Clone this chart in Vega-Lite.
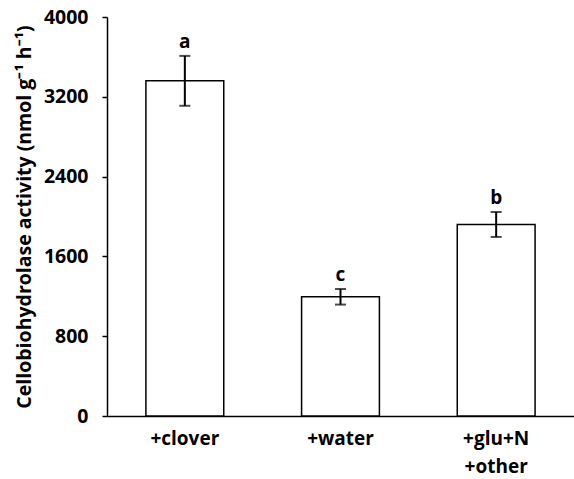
{
  "$schema": "https://vega.github.io/schema/vega-lite/v6.json",
  "autosize": "none",
  "width": 467,
  "height": 399,
  "padding": {"left": 107, "top": 17, "right": 0, "bottom": 63},
  "background": "white",
  "config": {
    "view": {"stroke": null},
    "font": "Open Sans"
  },
  "data": {
    "values": [
      {"treatment": "+clover", "activity": 3360, "se": 250, "group": "a"},
      {"treatment": "+water", "activity": 1195, "se": 78, "group": "c"},
      {"treatment": "+glu+N +other", "activity": 1920, "se": 125, "group": "b"}
    ]
  },
  "transform": [
    {"calculate": "datum.activity + datum.se", "as": "hi"},
    {"calculate": "datum.activity - datum.se", "as": "lo"}
  ],
  "encoding": {
    "x": {
      "field": "treatment",
      "type": "nominal",
      "sort": null,
      "scale": {"paddingInner": 0.5, "paddingOuter": 0.25},
      "axis": {
        "title": null,
        "labelAngle": 0,
        "labelFont": "Open Sans",
        "labelFontWeight": "bold",
        "labelFontSize": 19,
        "labelColor": "black",
        "labelPadding": 13,
        "labelLineHeight": 28,
        "labelExpr": "datum.value == '+glu+N +other' ? ['+glu+N', '+other'] : datum.label",
        "ticks": false,
        "domainColor": "black",
        "domainWidth": 1.5
      }
    }
  },
  "layer": [
    {
      "mark": {"type": "bar", "fill": "white", "stroke": "black", "strokeWidth": 1.5},
      "encoding": {
        "y": {
          "field": "activity",
          "type": "quantitative",
          "scale": {"domain": [0, 4000]},
          "axis": {
            "values": [0, 800, 1600, 2400, 3200, 4000],
            "format": "d",
            "grid": false,
            "title": "Cellobiohydrolase activity (nmol g⁻¹ h⁻¹)",
            "titleFont": "Open Sans",
            "titleFontWeight": "bold",
            "titleFontSize": 19.5,
            "titleColor": "black",
            "titlePadding": 9,
            "labelFont": "Open Sans",
            "labelFontWeight": "bold",
            "labelFontSize": 19.5,
            "labelColor": "black",
            "labelPadding": 14,
            "tickColor": "black",
            "tickWidth": 1.5,
            "tickSize": 5,
            "domainColor": "black",
            "domainWidth": 1.5
          }
        }
      }
    },
    {
      "mark": {"type": "rule", "color": "black", "strokeWidth": 2},
      "encoding": {
        "y": {"field": "lo", "type": "quantitative"},
        "y2": {"field": "hi"}
      }
    },
    {
      "mark": {"type": "tick", "color": "black", "thickness": 2, "size": 11},
      "encoding": {"y": {"field": "hi", "type": "quantitative"}}
    },
    {
      "mark": {"type": "tick", "color": "black", "thickness": 2, "size": 11},
      "encoding": {"y": {"field": "lo", "type": "quantitative"}}
    },
    {
      "mark": {"type": "text", "font": "Open Sans", "fontWeight": "bold", "fontSize": 19, "color": "black", "baseline": "bottom", "dy": -4},
      "encoding": {
        "y": {"field": "hi", "type": "quantitative"},
        "text": {"field": "group"}
      }
    }
  ]
}
